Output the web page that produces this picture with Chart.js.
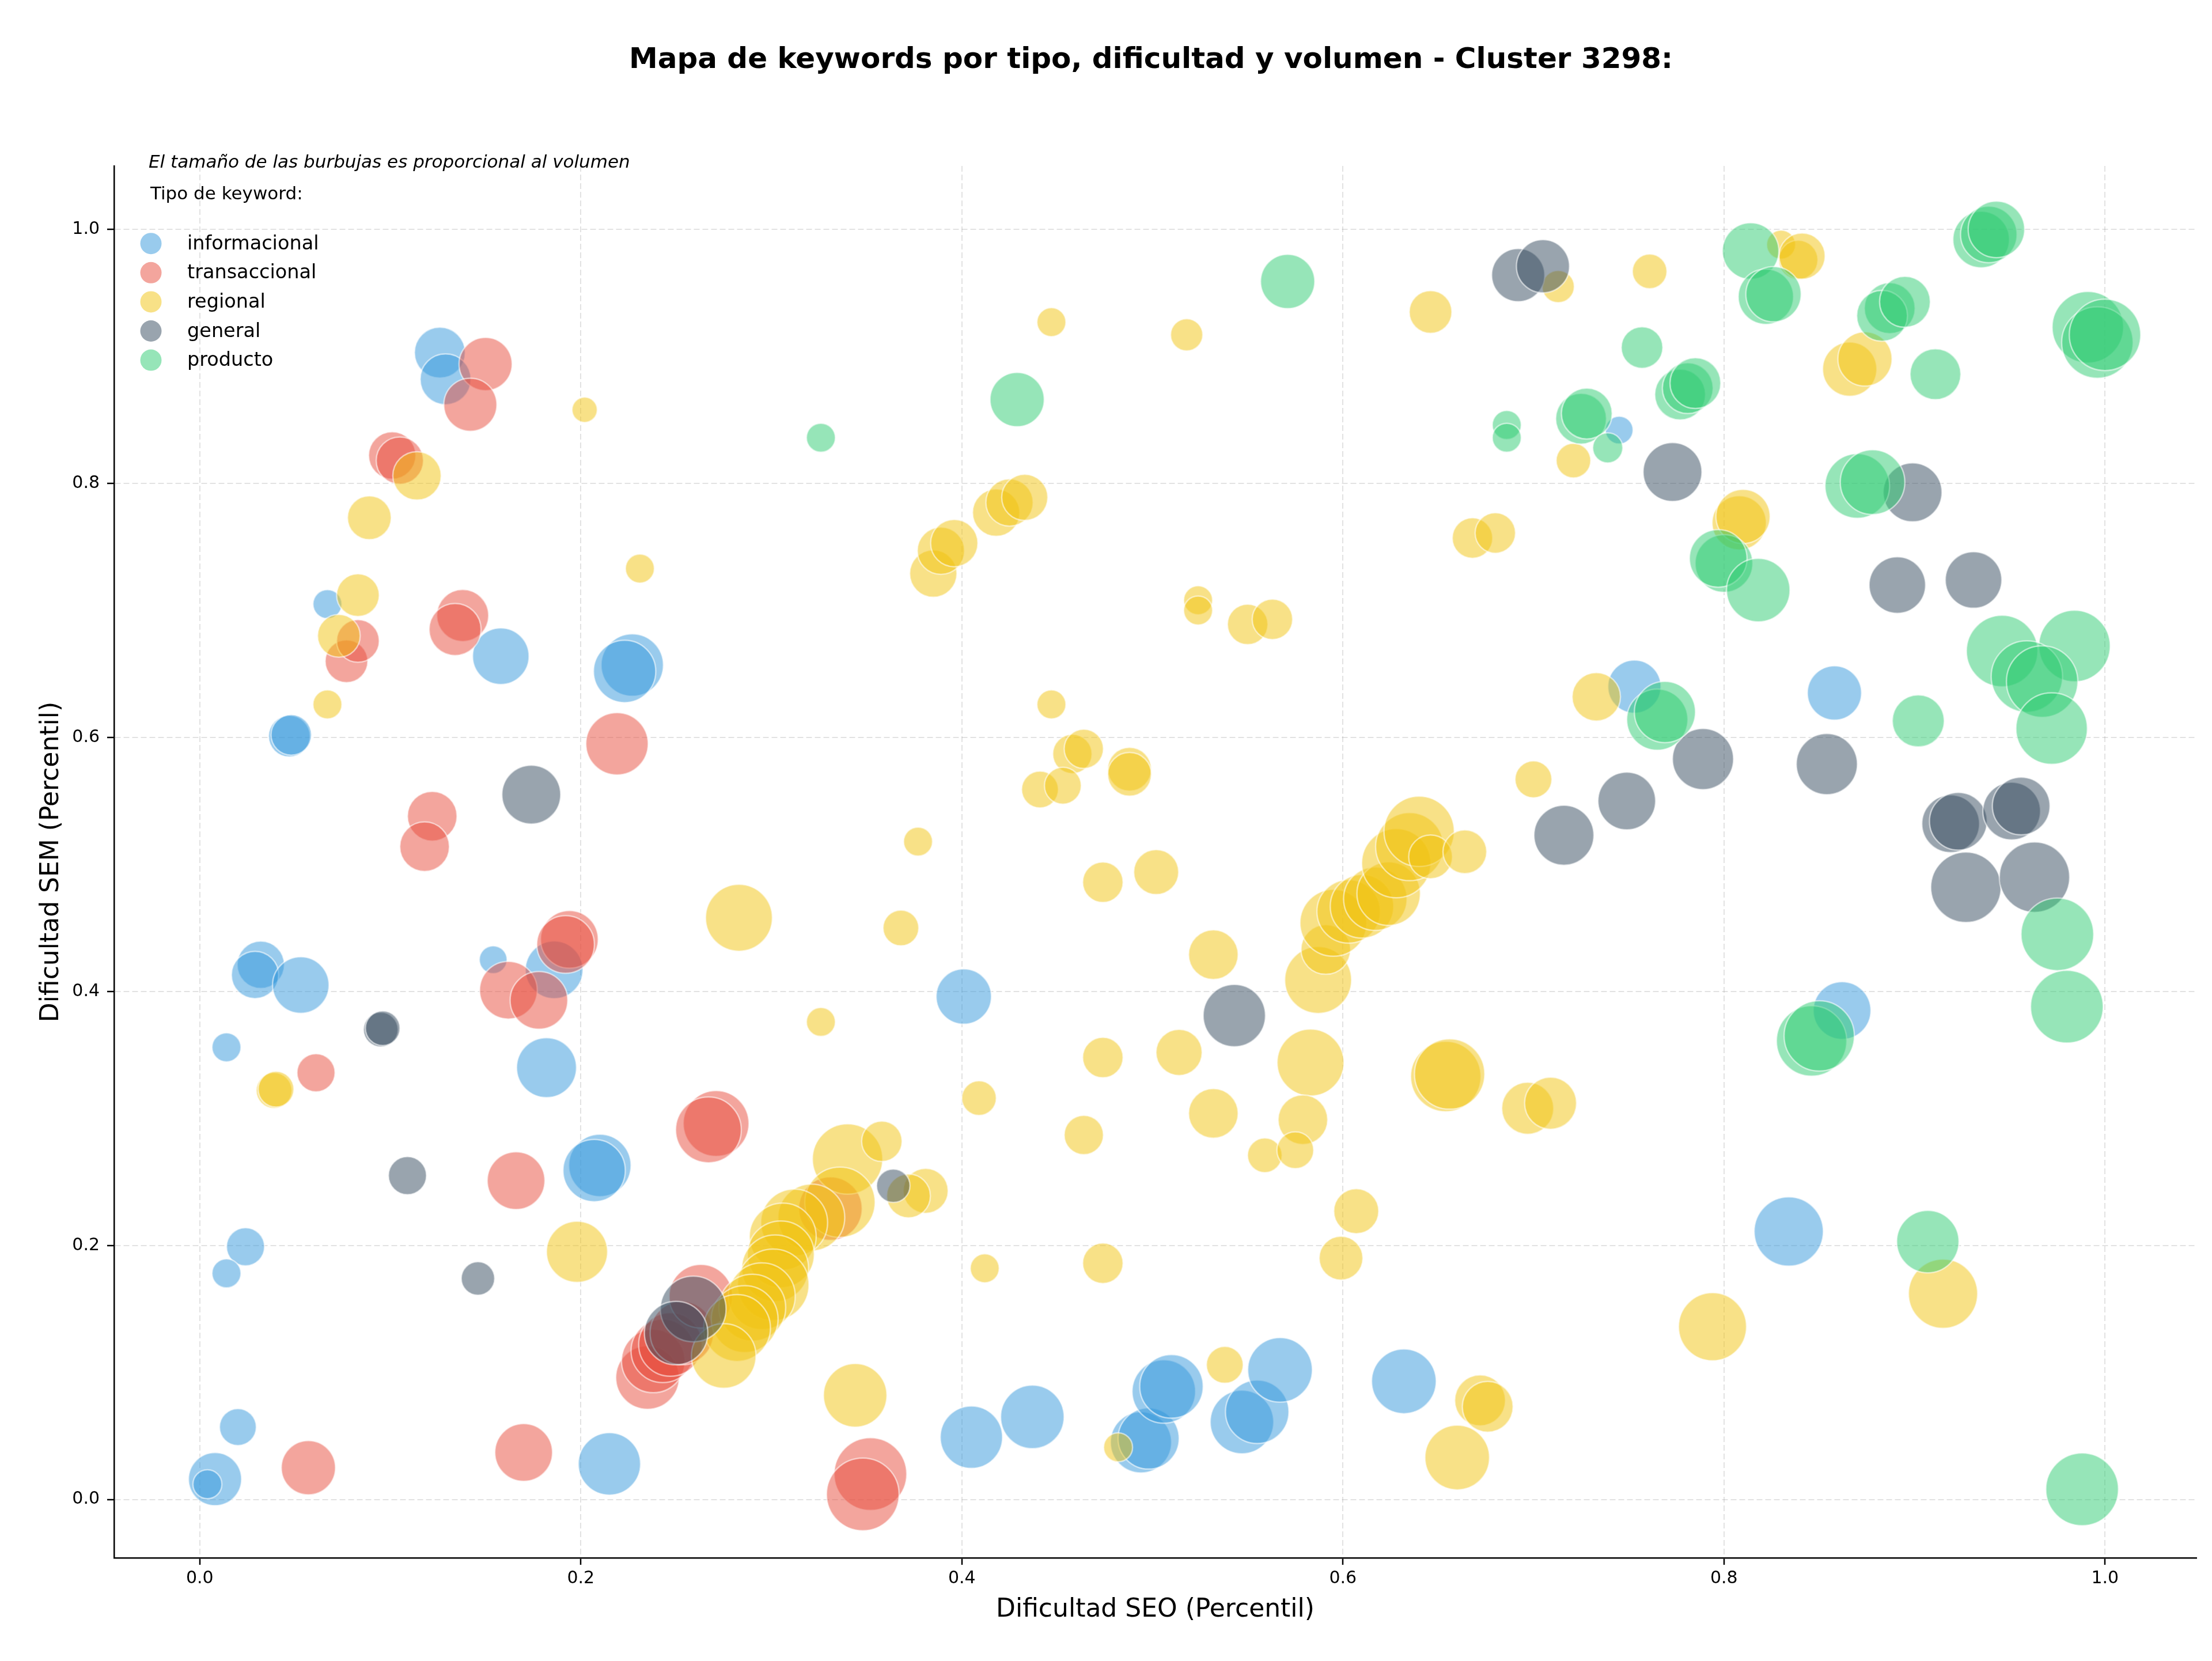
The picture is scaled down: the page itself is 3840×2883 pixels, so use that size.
<!DOCTYPE html>
<html>
<head>
<meta charset="utf-8">
<script src="https://cdn.jsdelivr.net/npm/chart.js@4.4.1/dist/chart.umd.min.js"></script>
<style>
html,body{margin:0;padding:0;background:#ffffff;}
canvas{display:block;}
</style>
</head>
<body>
<canvas id="c" width="3840" height="2883" style="width:3840px;height:2883px"></canvas>
<script>
// ---------------- DATA ----------------
const categories = ['informacional', 'transaccional', 'regional', 'general', 'producto'];

const infoSEO = [0.008,0.004,0.020,0.024,0.014,0.014,0.032,0.029,0.053,0.047,0.048,0.067,0.126,0.129,0.158,0.227,0.223,0.154,0.186,0.182,0.210,0.207,0.215,0.401,0.405,0.437,0.494,0.498,0.506,0.510,0.547,0.555,0.567,0.632,0.745,0.753,0.858,0.862,0.834];
const infoSEM = [0.016,0.012,0.057,0.199,0.178,0.356,0.421,0.413,0.405,0.601,0.602,0.705,0.903,0.882,0.664,0.657,0.652,0.425,0.417,0.340,0.263,0.259,0.028,0.396,0.049,0.065,0.045,0.048,0.085,0.089,0.061,0.069,0.102,0.093,0.842,0.640,0.635,0.385,0.211];
const infoVol = [2120,630,1020,1090,630,630,1680,1680,2400,1300,1230,630,1940,1940,2400,2920,2920,580,2500,2700,2920,2920,2920,2300,2920,3030,2810,2810,3030,3030,3030,3030,3140,3140,580,2120,2210,2500,3600];

const transSEO = [0.057,0.170,0.061,0.077,0.083,0.101,0.105,0.150,0.142,0.138,0.134,0.122,0.118,0.219,0.162,0.178,0.194,0.192,0.166,0.271,0.267,0.352,0.348,0.235,0.238,0.243,0.247,0.253,0.263,0.331];
const transSEM = [0.025,0.037,0.336,0.660,0.676,0.822,0.818,0.894,0.862,0.696,0.685,0.538,0.514,0.595,0.401,0.393,0.441,0.437,0.251,0.296,0.291,0.020,0.004,0.096,0.109,0.117,0.122,0.131,0.160,0.229];
const transVol = [2210,2500,1090,1370,1370,1680,1680,2120,2120,2030,2030,1850,1850,2920,2500,2500,2500,2500,2500,3250,3250,3970,3970,3030,3030,3030,3030,3030,3030,3030];

const regSEO = [0.039,0.040,0.067,0.073,0.083,0.089,0.114,0.202,0.231,0.198,0.283,0.368,0.326,0.409,0.344,0.377,0.385,0.389,0.396,0.418,0.425,0.433,0.447,0.458,0.464,0.441,0.453,0.488,0.488,0.474,0.502,0.532,0.474,0.514,0.583,0.587,0.591,0.595,0.603,0.610,0.617,0.624,0.628,0.635,0.640,0.646,0.664,0.700,0.733,0.654,0.656,0.697,0.709,0.464,0.532,0.579,0.559,0.575,0.607,0.599,0.474,0.412,0.538,0.482,0.672,0.676,0.660,0.794,0.915,0.447,0.518,0.646,0.713,0.721,0.668,0.680,0.524,0.524,0.550,0.563,0.761,0.830,0.839,0.841,0.866,0.874,0.808,0.810,0.340,0.358,0.381,0.372,0.336,0.321,0.312,0.306,0.305,0.302,0.301,0.295,0.290,0.286,0.282,0.275];
const regSEM = [0.322,0.323,0.626,0.680,0.712,0.773,0.806,0.858,0.733,0.195,0.458,0.450,0.376,0.316,0.082,0.518,0.729,0.747,0.753,0.777,0.785,0.789,0.626,0.587,0.591,0.559,0.562,0.575,0.571,0.486,0.494,0.429,0.348,0.352,0.344,0.409,0.433,0.454,0.463,0.467,0.473,0.477,0.501,0.514,0.526,0.506,0.510,0.567,0.632,0.333,0.335,0.308,0.312,0.287,0.304,0.299,0.271,0.275,0.227,0.190,0.186,0.182,0.106,0.041,0.078,0.073,0.033,0.136,0.162,0.927,0.917,0.935,0.955,0.818,0.757,0.761,0.708,0.700,0.689,0.693,0.967,0.988,0.976,0.979,0.890,0.898,0.769,0.774,0.268,0.282,0.243,0.239,0.234,0.222,0.218,0.207,0.193,0.182,0.169,0.160,0.151,0.142,0.135,0.113];
const regVol = [960,960,630,1370,1370,1440,1760,480,630,2810,3360,960,630,900,3030,630,1680,1680,1680,1680,1680,1600,630,1160,1160,1020,1020,1440,1440,1230,1520,1850,1230,1600,3360,3360,1850,3360,3030,3030,3030,3030,3600,3480,3720,1440,1440,1020,1760,3720,3720,2030,2030,1160,1850,1850,900,1020,1520,1440,1230,630,1020,630,1940,1940,3140,3480,3600,630,780,1370,780,900,1230,1230,630,630,1230,1230,900,630,1160,1600,2210,2210,2210,2210,3720,1230,1520,1440,3720,3360,3360,3360,3360,3360,3840,3360,3360,3360,3360,3140];

const genSEO = [0.095,0.096,0.109,0.146,0.174,0.259,0.250,0.364,0.543,0.692,0.705,0.773,0.899,0.891,0.931,0.716,0.749,0.789,0.854,0.919,0.923,0.951,0.956,0.927,0.963];
const genSEM = [0.370,0.371,0.255,0.174,0.555,0.150,0.131,0.247,0.381,0.964,0.971,0.809,0.793,0.720,0.724,0.523,0.550,0.583,0.579,0.532,0.534,0.542,0.546,0.482,0.490];
const genVol = [900,900,1090,840,2600,3250,3030,840,2920,2120,2120,2600,2600,2400,2400,2700,2500,2810,2810,2500,2500,2500,2500,3720,3720];

const prodSEO = [0.326,0.429,0.571,0.686,0.686,0.725,0.728,0.739,0.757,0.777,0.781,0.785,0.814,0.822,0.826,0.935,0.939,0.943,0.887,0.883,0.895,0.911,0.991,0.996,1.000,0.800,0.797,0.818,0.870,0.878,0.765,0.769,0.902,0.946,0.984,0.959,0.967,0.972,0.975,0.980,0.846,0.850,0.907,0.988];
const prodSEM = [0.836,0.866,0.959,0.846,0.836,0.851,0.855,0.828,0.907,0.870,0.875,0.879,0.983,0.947,0.949,0.992,0.996,1.000,0.938,0.932,0.943,0.886,0.923,0.911,0.917,0.737,0.741,0.716,0.798,0.801,0.614,0.620,0.613,0.668,0.672,0.648,0.644,0.607,0.445,0.388,0.361,0.365,0.203,0.008];
const prodVol = [630,2210,2210,630,630,1940,1940,680,1300,1940,1940,1940,2400,2300,2300,2400,2400,2400,1940,1940,1940,1940,3840,3840,3840,2500,2500,3030,3140,3140,2810,2810,2030,3840,3840,3840,3840,3840,3970,3970,3720,3720,2920,3970];

const xTickValues = [0.0, 0.2, 0.4, 0.6, 0.8, 1.0];
const yTickValues = [0.0, 0.2, 0.4, 0.6, 0.8, 1.0];

const TITLE = 'Mapa de keywords por tipo, dificultad y volumen - Cluster 3298:';
const X_LABEL = 'Dificultad SEO (Percentil)';
const Y_LABEL = 'Dificultad SEM (Percentil)';
const NOTE = 'El tamaño de las burbujas es proporcional al volumen';
const LEGEND_TITLE = 'Tipo de keyword:';

// ---------------- STYLE ----------------
const FONT = '"DejaVu Sans", "Liberation Sans", sans-serif';
const baseColors = {
  informacional: [52,152,219],
  transaccional: [231,76,60],
  regional: [241,196,15],
  general: [52,73,94],
  producto: [46,204,113]
};
const ALPHA = 0.5;
const rgba = (c, a) => `rgba(${c[0]},${c[1]},${c[2]},${a})`;

function toPoints(xs, ys, vs) {
  return xs.map((x, i) => ({ x: x, y: ys[i], r: Math.sqrt(vs[i]) }));
}

const series = [
  { name: 'informacional', pts: toPoints(infoSEO, infoSEM, infoVol) },
  { name: 'transaccional', pts: toPoints(transSEO, transSEM, transVol) },
  { name: 'regional', pts: toPoints(regSEO, regSEM, regVol) },
  { name: 'general', pts: toPoints(genSEO, genSEM, genVol) },
  { name: 'producto', pts: toPoints(prodSEO, prodSEM, prodVol) }
];

const datasets = series.map((s, i) => ({
  label: s.name,
  data: s.pts,
  backgroundColor: rgba(baseColors[s.name], ALPHA),
  borderColor: 'rgba(255,255,255,0.55)',
  borderWidth: 2.5,
  hoverBorderWidth: 2.5,
  order: series.length - i
}));

const GRID_COLOR = 'rgba(150,150,150,0.28)';

const overlay = {
  id: 'overlay',
  afterDraw(chart) {
    const ctx = chart.ctx;
    const ca = chart.chartArea;
    ctx.save();
    ctx.fillStyle = '#000';
    // Title
    ctx.font = 'bold 50px ' + FONT;
    ctx.textAlign = 'center';
    ctx.textBaseline = 'alphabetic';
    ctx.fillText(TITLE, 1998, 118);
    // X label
    ctx.font = '44px ' + FONT;
    ctx.fillText(X_LABEL, (ca.left + ca.right) / 2, 2806);
    // Y label
    ctx.save();
    ctx.translate(101, (ca.top + ca.bottom) / 2);
    ctx.rotate(-Math.PI / 2);
    ctx.fillText(Y_LABEL, 0, 0);
    ctx.restore();
    // Note
    ctx.textAlign = 'left';
    ctx.font = 'italic 31px ' + FONT;
    ctx.fillText(NOTE, 258, 291);
    ctx.font = '31px ' + FONT;
    ctx.fillText(LEGEND_TITLE, 261, 346);
    // Legend
    ctx.font = '33.5px ' + FONT;
    categories.forEach((name, i) => {
      const cy = 422.7 + i * 50.6;
      ctx.beginPath();
      ctx.arc(262, cy, 18.5, 0, Math.PI * 2);
      ctx.fillStyle = rgba(baseColors[name], ALPHA);
      ctx.fill();
      ctx.fillStyle = '#000';
      ctx.fillText(name, 325, cy + 10);
    });
    ctx.restore();
  }
};

const axisCommon = {
  type: 'linear',
  grid: {
    display: true,
    color: GRID_COLOR,
    lineWidth: 2,
    drawTicks: true,
    tickLength: 12,
    tickColor: '#000',
    tickWidth: 2.5,
    tickBorderDash: []
  },
  border: { display: true, color: '#000', width: 2.5, dash: [10, 5] },
  ticks: {
    color: '#000',
    font: { family: FONT, size: 30 },
    maxRotation: 0,
    autoSkip: false,
    callback: (v) => Number(v).toFixed(1)
  }
};

function zeroPad(s) {
  s.paddingLeft = 0; s.paddingRight = 0; s.paddingTop = 0; s.paddingBottom = 0;
}

new Chart(document.getElementById('c').getContext('2d'), {
  type: 'bubble',
  data: { datasets: datasets },
  plugins: [overlay],
  options: {
    responsive: false,
    maintainAspectRatio: false,
    animation: false,
    devicePixelRatio: 1,
    events: [],
    layout: { autoPadding: false, padding: { left: 0, right: 27, top: 288, bottom: 0 } },
    plugins: { legend: { display: false }, tooltip: { enabled: false }, title: { display: false } },
    scales: {
      x: Object.assign({}, axisCommon, {
        position: 'bottom',
        min: -0.045, max: 1.048,
        afterFit(s) { s.height = 179; zeroPad(s); },
        afterBuildTicks(s) { s.ticks = xTickValues.map(v => ({ value: v })); },
        ticks: Object.assign({}, axisCommon.ticks, { padding: 6 })
      }),
      y: Object.assign({}, axisCommon, {
        position: 'left',
        min: -0.046, max: 1.050,
        afterFit(s) { s.width = 198; zeroPad(s); },
        afterBuildTicks(s) { s.ticks = yTickValues.map(v => ({ value: v })); },
        ticks: Object.assign({}, axisCommon.ticks, { padding: 13 })
      })
    }
  }
});
</script>
</body>
</html>
